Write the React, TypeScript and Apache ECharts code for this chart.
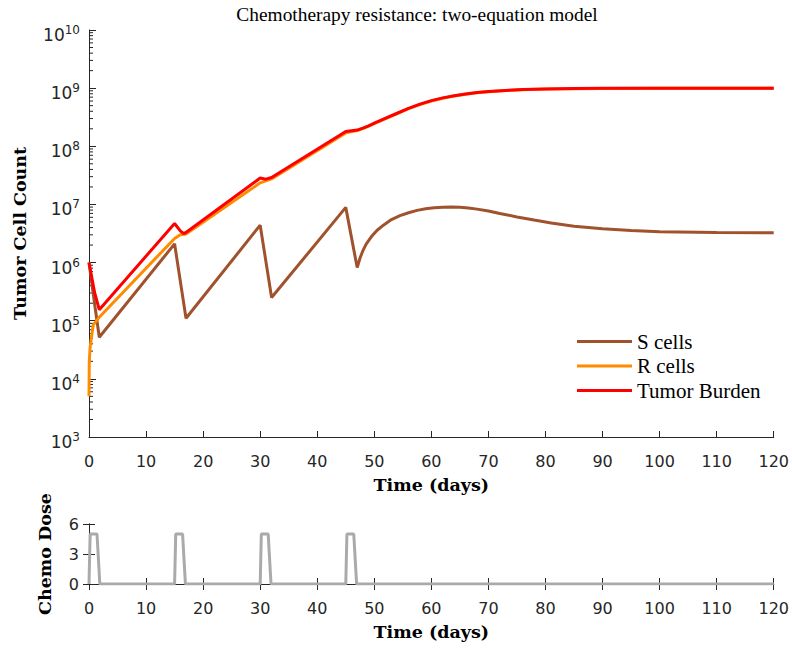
import React, { useEffect, useRef } from "react";
import * as echarts from "echarts";

// ---- Data ----
const sTime = [0, 1, 1.8, 15, 17, 30, 32, 45, 47, 47.5, 48, 48.6, 49.5, 50.5, 51.6, 53, 54.5, 56, 57.5, 59, 60.5, 62, 63.5, 65, 66.5, 68, 70, 72, 75, 78, 81, 85, 90, 95, 100, 110, 120];
const sValues = [1e6, 1.9e5, 5.2e4, 2.1e6, 1.1e5, 4.4e6, 2.5e5, 8.9e6, 8.2e5, 1.2e6, 1.6e6, 2.1e6, 2.8e6, 3.6e6, 4.4e6, 5.5e6, 6.4e6, 7.2e6, 7.9e6, 8.4e6, 8.8e6, 8.95e6, 9.0e6, 8.9e6, 8.7e6, 8.3e6, 7.7e6, 7.0e6, 6.1e6, 5.4e6, 4.8e6, 4.2e6, 3.8e6, 3.55e6, 3.4e6, 3.28e6, 3.25e6];

const rTime = [0, 0.05, 0.2, 0.47, 0.75, 1.8, 15, 16, 17, 30, 32, 45, 47, 48, 49, 50, 52, 54, 56, 58, 60, 62, 64, 66, 68, 70, 73, 76, 80, 85, 90, 100, 120];
const rValues = [5e3, 2e4, 3.5e4, 5.5e4, 8.5e4, 1.15e5, 2.6e6, 3.0e6, 3.1e6, 2.35e7, 2.75e7, 1.7e8, 1.87e8, 2.02e8, 2.22e8, 2.46e8, 3.0e8, 3.64e8, 4.43e8, 5.22e8, 6.02e8, 6.71e8, 7.31e8, 7.86e8, 8.32e8, 8.67e8, 9.08e8, 9.39e8, 9.65e8, 9.81e8, 9.89e8, 9.95e8, 9.97e8];

const tumorTime = [0, 1, 1.8, 15, 16, 16.6, 17, 30, 31, 32, 45, 47, 48, 49, 50, 52, 54, 56, 58, 60, 62, 64, 66, 68, 70, 73, 76, 80, 85, 90, 100, 120];
const tumorValues = [1e6, 3.0e5, 1.55e5, 4.7e6, 3.5e6, 3.15e6, 3.3e6, 2.85e7, 2.72e7, 2.9e7, 1.8e8, 1.9e8, 2.05e8, 2.25e8, 2.5e8, 3.05e8, 3.7e8, 4.5e8, 5.3e8, 6.1e8, 6.8e8, 7.4e8, 7.95e8, 8.4e8, 8.75e8, 9.15e8, 9.45e8, 9.7e8, 9.85e8, 9.93e8, 9.98e8, 1e9];

const doseTime = [0, 0.2, 1.4, 1.9, 15, 15.2, 16.4, 16.9, 30, 30.2, 31.4, 31.9, 45, 45.2, 46.4, 46.9, 120];
const doseValues = [0, 5, 5, 0, 0, 5, 5, 0, 0, 5, 5, 0, 0, 5, 5, 0, 0];

const seriesNames = ["S cells", "R cells", "Tumor Burden"];
const xTicks = { min: 0, max: 120, interval: 10 };
const doseTicks = { min: 0, max: 6, interval: 3 };
const logRange = { min: 1e3, max: 1e10 };
const minorMantissas = [2, 3, 4, 5, 6, 7, 8, 9];
const minorExponents = [3, 4, 5, 6, 7, 8, 9];

const AX = "#262626";
const SANS = "DejaVu Sans";
const SERIF = "Liberation Serif";
const SERIF_BOLD = "DejaVu Serif";
const NAME_SIZE = 17.5;

const pairs = (t: number[], v: number[]) => t.map((x, i) => [x, v[i]]);

export default function App() {
  const ref = useRef<HTMLDivElement>(null);
  useEffect(() => {
    if (!ref.current) return;
    const chart = echarts.init(ref.current, undefined, { renderer: "svg" });
    const minorTicks: number[][] = [];
    minorExponents.forEach((e) => minorMantissas.forEach((m) => minorTicks.push([0, m * Math.pow(10, e)])));

    const xAxisBase = (gridIndex: number) => ({
      type: "value",
      gridIndex,
      min: xTicks.min,
      max: xTicks.max,
      interval: xTicks.interval,
      axisLine: { show: true, onZero: false, lineStyle: { color: AX, width: 1 } },
      axisTick: { show: true, inside: true, length: 6, lineStyle: { color: AX } },
      splitLine: { show: false },
      axisLabel: { color: AX, fontSize: 16, fontFamily: SANS, margin: 16 },
      name: "Time (days)",
      nameLocation: "middle",
      nameGap: 39,
      nameTextStyle: { color: "#000", fontSize: NAME_SIZE, fontWeight: "bold", fontFamily: SERIF_BOLD },
    });

    const option: any = {
      animation: false,
      backgroundColor: "#fff",
      graphic: [
        {
          type: "text",
          x: 417,
          y: 14,
          style: {
            text: "Chemotherapy resistance: two-equation model",
            textAlign: "center",
            textVerticalAlign: "middle",
            fontSize: 19.4,
            fontFamily: SERIF,
            fill: "#000",
          },
        },
      ],
      grid: [
        { left: 89, right: 18, top: 30, height: 407, containLabel: false },
        { left: 89, right: 18, top: 524, height: 60, containLabel: false },
      ],
      legend: {
        data: seriesNames,
        orient: "vertical",
        left: 577,
        top: 331,
        padding: 0,
        itemWidth: 55,
        itemHeight: 3,
        itemGap: 3.5,
        icon: "rect",
        textStyle: { fontSize: 21, fontFamily: SERIF, color: "#000", padding: [0, 0, 0, 0] },
      },
      xAxis: [
        xAxisBase(0),
        xAxisBase(1),
        {
          type: "value",
          gridIndex: 1,
          position: "top",
          min: xTicks.min,
          max: xTicks.max,
          interval: xTicks.interval,
          axisLine: { show: true, lineStyle: { color: AX, width: 1 } },
          axisTick: { show: true, inside: true, length: 6, lineStyle: { color: AX } },
          axisLabel: { show: false },
          splitLine: { show: false },
        },
      ],
      yAxis: [
        {
          type: "log",
          logBase: 10,
          gridIndex: 0,
          min: logRange.min,
          max: logRange.max,
          axisLine: { show: true, lineStyle: { color: AX, width: 1 } },
          axisTick: { show: true, inside: true, length: 7, lineStyle: { color: AX } },
          splitLine: { show: false },
          minorTick: { show: false },
          axisLabel: {
            margin: 9,
            padding: [10, 0, 0, 0],
            formatter: (v: number) => `{b|10}{s|${Math.round(Math.log10(v))}}`,
            rich: {
              b: { fontSize: 17, fontFamily: SANS, color: AX, lineHeight: 22 },
              s: { fontSize: 12, fontFamily: SANS, color: AX, lineHeight: 12, verticalAlign: "top" },
            },
          },
          name: "Tumor Cell Count",
          nameLocation: "middle",
          nameGap: 60,
          nameTextStyle: { color: "#000", fontSize: NAME_SIZE, fontWeight: "bold", fontFamily: SERIF_BOLD },
        },
        {
          type: "value",
          gridIndex: 1,
          min: doseTicks.min,
          max: doseTicks.max,
          interval: doseTicks.interval,
          axisLine: { show: true, lineStyle: { color: AX, width: 1 } },
          axisTick: { show: true, inside: true, length: 6, lineStyle: { color: AX } },
          splitLine: { show: false },
          axisLabel: { color: AX, fontSize: 16, fontFamily: SANS, margin: 10 },
          name: "Chemo Dose",
          nameLocation: "middle",
          nameGap: 35,
          nameTextStyle: { color: "#000", fontSize: NAME_SIZE, fontWeight: "bold", fontFamily: SERIF_BOLD },
        },
        {
          type: "value",
          gridIndex: 1,
          position: "right",
          min: doseTicks.min,
          max: doseTicks.max,
          interval: doseTicks.interval,
          axisLine: { show: true, lineStyle: { color: AX, width: 1 } },
          axisTick: { show: true, inside: true, length: 6, lineStyle: { color: AX } },
          axisLabel: { show: false },
          splitLine: { show: false },
        },
      ],
      series: [
        {
          type: "custom",
          name: "minorTicks",
          xAxisIndex: 0,
          yAxisIndex: 0,
          silent: true,
          clip: false,
          data: minorTicks,
          renderItem: (params: any, api: any) => {
            const p = api.coord([0, api.value(1)]);
            return {
              type: "line",
              shape: { x1: p[0], y1: p[1], x2: p[0] + 4, y2: p[1] },
              style: { stroke: AX, lineWidth: 1 },
            };
          },
          z: 1,
        },
        {
          type: "line",
          name: seriesNames[0],
          xAxisIndex: 0,
          yAxisIndex: 0,
          data: pairs(sTime, sValues),
          symbol: "none",
          color: "#A0522D",
          lineStyle: { color: "#A0522D", width: 3 },
          z: 3,
        },
        {
          type: "line",
          name: seriesNames[1],
          xAxisIndex: 0,
          yAxisIndex: 0,
          data: pairs(rTime, rValues),
          symbol: "none",
          color: "#FF8C00",
          lineStyle: { color: "#FF8C00", width: 3 },
          z: 4,
        },
        {
          type: "line",
          name: seriesNames[2],
          xAxisIndex: 0,
          yAxisIndex: 0,
          data: pairs(tumorTime, tumorValues),
          symbol: "none",
          color: "#FF0000",
          lineStyle: { color: "#FF0000", width: 3 },
          z: 5,
        },
        {
          type: "line",
          name: "Chemo Dose",
          xAxisIndex: 1,
          yAxisIndex: 1,
          data: pairs(doseTime, doseValues),
          symbol: "none",
          color: "#AAAAAA",
          lineStyle: { color: "#AAAAAA", width: 3 },
          z: 5,
        },
      ],
    };
    chart.setOption(option);
    return () => chart.dispose();
  }, []);
  return <div ref={ref} style={{ width: 792, height: 648, position: "absolute", left: 0, top: 0 }} />;
}
